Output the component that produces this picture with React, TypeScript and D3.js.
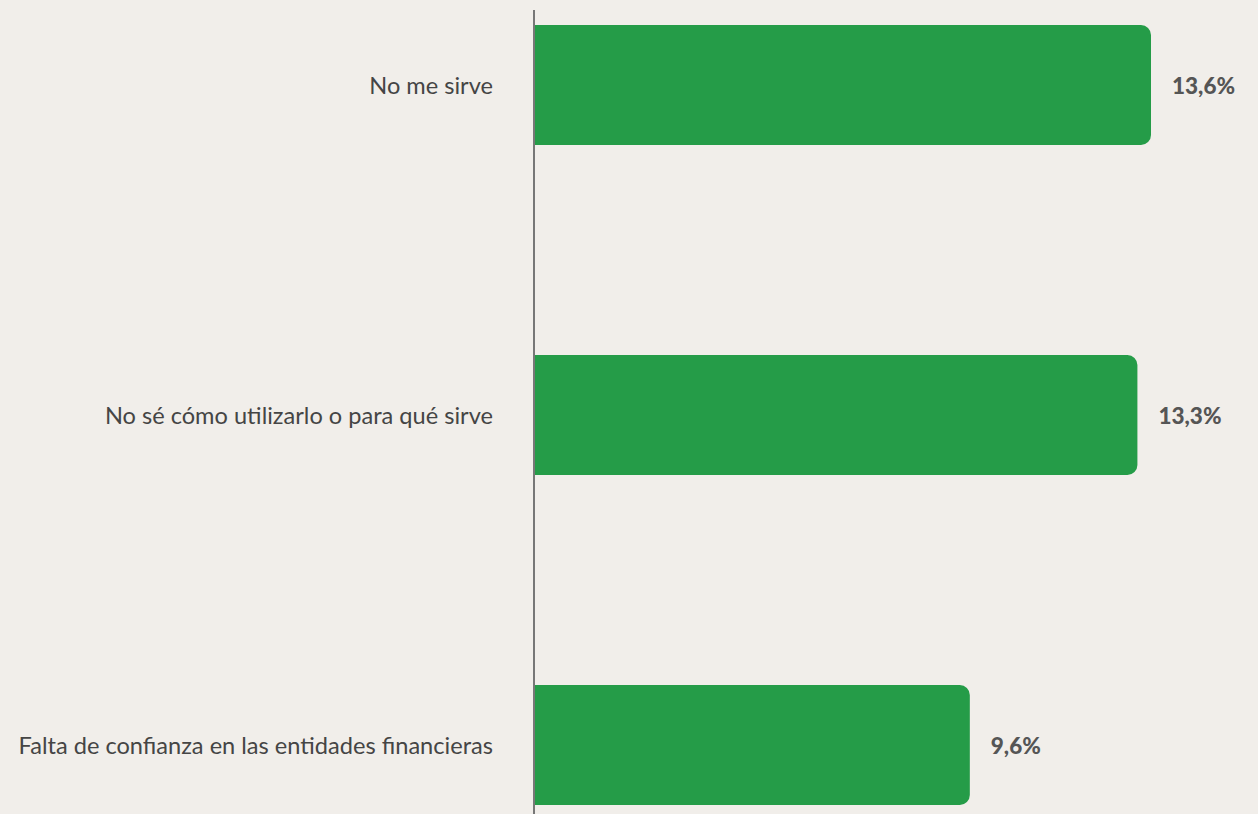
import React from "react";
import * as d3 from "d3";

const categories = [
  "No me sirve",
  "No sé cómo utilizarlo o para qué sirve",
  "Falta de confianza en las entidades financieras",
];
const values = [13.6, 13.3, 9.6];
const valueLabels = ["13,6%", "13,3%", "9,6%"];

const W = 1258;
const H = 814;

export default function App() {
  const x0 = 535;
  const x = d3.scaleLinear().domain([0, 13.6]).range([x0, 1151]);
  const y = d3
    .scaleBand<string>()
    .domain(categories)
    .range([-80, 910])
    .paddingInner(0.6364)
    .paddingOuter(0.3182);
  const bw = y.bandwidth();
  const r = 10;

  const barPath = (x1: number, top: number, h: number) => {
    const p = d3.path();
    p.moveTo(x0, top);
    p.lineTo(x1 - r, top);
    p.arcTo(x1, top, x1, top + r, r);
    p.lineTo(x1, top + h - r);
    p.arcTo(x1, top + h, x1 - r, top + h, r);
    p.lineTo(x0, top + h);
    p.closePath();
    return p.toString();
  };

  return (
    <svg
      width={W}
      height={H}
      style={{ position: "absolute", left: 0, top: 0, display: "block" }}
    >
      <rect x={0} y={0} width={W} height={H} fill="#f1eeea" />
      {categories.map((c, i) => {
        const top = y(c)!;
        const xe = x(values[i]);
        const cy = top + bw / 2;
        return (
          <g key={c}>
            <path d={barPath(xe, top, bw)} fill="#259c48" />
            <text
              x={493}
              y={cy}
              textAnchor="end"
              dominantBaseline="central"
              fontFamily="Lato, sans-serif"
              fontSize={23.6}
              fill="#454545"
            >
              {c}
            </text>
            <text
              x={xe + 21}
              y={cy}
              dominantBaseline="central"
              fontFamily="Lato, sans-serif"
              fontWeight={900}
              fontSize={22.5}
              fill="#555555"
            >
              {valueLabels[i]}
            </text>
          </g>
        );
      })}
      <line x1={534} x2={534} y1={10} y2={H} stroke="#777777" strokeWidth={2} />
    </svg>
  );
}
